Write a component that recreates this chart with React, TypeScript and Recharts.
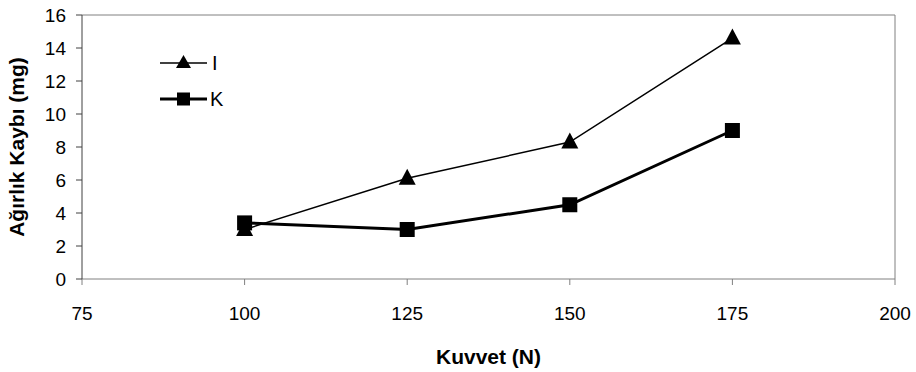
import React from "react";
import {
  LineChart,
  Line,
  XAxis,
  YAxis,
  ReferenceLine,
} from "recharts";

const forces = [100, 125, 150, 175];
const seriesI = [3.0, 6.1, 8.3, 14.6];
const seriesK = [3.4, 3.0, 4.5, 9.0];
const xTicks = [75, 100, 125, 150, 175, 200];
const yTicks = [0, 2, 4, 6, 8, 10, 12, 14, 16];
const seriesNames = ["I", "K"];

const data = forces.map((f, i) => ({ x: f, I: seriesI[i], K: seriesK[i] }));

const FONT = "'Liberation Sans', Arial, sans-serif";

const Triangle = (props: any) => {
  const { cx, cy, key } = props;
  if (cx == null || cy == null) return null;
  const s = 17;
  const h = 16;
  return (
    <path
      key={key}
      d={`M${cx},${cy - h * 0.6} L${cx + s / 2},${cy + h * 0.4} L${cx - s / 2},${cy + h * 0.4} Z`}
      fill="#000"
    />
  );
};

const Square = (props: any) => {
  const { cx, cy, key } = props;
  if (cx == null || cy == null) return null;
  const s = 15;
  return <rect key={key} x={cx - s / 2} y={cy - s / 2} width={s} height={s} fill="#000" />;
};

const LegendBox = () => (
  <svg
    width={80}
    height={60}
    style={{ position: "absolute", left: 160, top: 50 }}
  >
    <line x1={0} y1={13} x2={47} y2={13} stroke="#000" strokeWidth={1.5} />
    <path d="M23.5,5 L31,18 L16,18 Z" fill="#000" />
    <text x={52} y={20} fontFamily={FONT} fontSize={20} fill="#000">{seriesNames[0]}</text>
    <line x1={0} y1={49} x2={47} y2={49} stroke="#000" strokeWidth={3} />
    <rect x={17} y={42.5} width={13} height={13} fill="#000" />
    <text x={50} y={56} fontFamily={FONT} fontSize={20} fill="#000">{seriesNames[1]}</text>
  </svg>
);

export default function App() {
  return (
    <div style={{ position: "absolute", left: 0, top: 0, width: 916, height: 372, background: "#fff" }}>
      <LineChart
        width={916}
        height={372}
        data={data}
        margin={{ top: 15, right: 21, left: 0, bottom: 0 }}
      >
        <XAxis
          dataKey="x"
          type="number"
          domain={[75, 200]}
          ticks={xTicks}
          interval={0}
          height={93}
          stroke="#808080"
          tickSize={6}
          tickMargin={22}
          tick={{ fill: "#000", fontSize: 19, fontFamily: FONT }}
          label={{
            value: "Kuvvet (N)",
            position: "insideBottom",
            offset: 8,
            style: { fontFamily: FONT, fontSize: 21, fontWeight: "bold", fill: "#000" },
          }}
        />
        <YAxis
          type="number"
          domain={[0, 16]}
          ticks={yTicks}
          interval={0}
          width={82}
          stroke="#404040"
          tickSize={6}
          tickMargin={10}
          tick={{ fill: "#000", fontSize: 19, fontFamily: FONT }}
          label={{
            value: "Ağırlık Kaybı (mg)",
            angle: -90,
            position: "insideLeft",
            offset: 17,
            style: { textAnchor: "middle", fontFamily: FONT, fontSize: 21, fontWeight: "bold", fill: "#000" },
          }}
        />
        <ReferenceLine y={16} stroke="#808080" strokeWidth={1} />
        <ReferenceLine x={200} stroke="#808080" strokeWidth={1} />
        <Line
          dataKey="I"
          stroke="#000"
          strokeWidth={1.5}
          dot={Triangle}
          activeDot={false}
          isAnimationActive={false}
        />
        <Line
          dataKey="K"
          stroke="#000"
          strokeWidth={3}
          dot={Square}
          activeDot={false}
          isAnimationActive={false}
        />
      </LineChart>
      <LegendBox />
    </div>
  );
}
